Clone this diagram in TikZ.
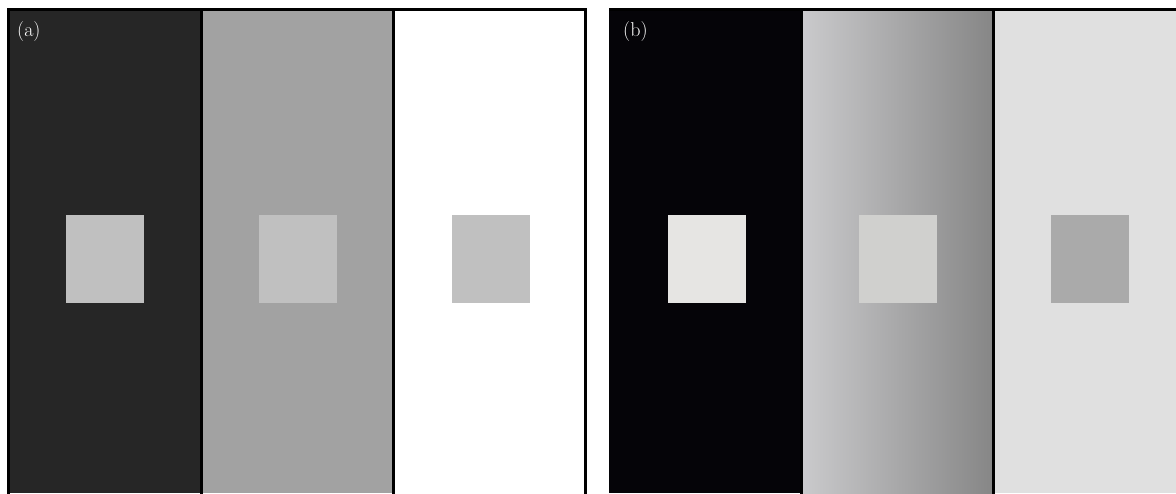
\documentclass[tikz,border=0pt]{standalone}
\usepackage{fontspec}
\begin{document}
\begin{tikzpicture}[x=1pt,y=-1pt,
  frame/.style={line width=3pt,line cap=rect},
  lbl/.style={anchor=base west,inner sep=0pt,text=white,font=\fontsize{20}{20}\selectfont}]
\definecolor{adark}{RGB}{38,38,38}
\definecolor{amid}{RGB}{162,162,162}
\definecolor{asq}{RGB}{192,192,192}
\definecolor{bdark}{RGB}{5,4,8}
\definecolor{bsqa}{RGB}{230,229,227}
\definecolor{bsqb}{RGB}{208,208,206}
\definecolor{bsqc}{RGB}{170,170,170}
\definecolor{blight}{RGB}{224,224,224}
\definecolor{gradl}{RGB}{202,202,204}
\definecolor{gradr}{RGB}{134,134,134}
\useasboundingbox (0,0) rectangle (1176,493);
\fill[white] (0,0) rectangle (1176,493);
% panel (a)
\fill[adark] (8.5,9.5) rectangle (201.5,493);
\fill[amid] (201.5,9.5) rectangle (393.5,493);
\fill[white] (393.5,9.5) rectangle (585.5,493);
\fill[asq] (66,215) rectangle (144,303);
\fill[asq] (259,215) rectangle (337,303);
\fill[asq] (452,215) rectangle (530,303);
\draw[frame] (8.5,493) -- (8.5,9.5) -- (585.5,9.5) -- (585.5,493);
\draw[frame] (201.5,9.5) -- (201.5,493);
\draw[frame] (393.5,9.5) -- (393.5,493);
\node[lbl] (la) at (17,36) {(a)};
% panel (b)
\fill[bdark] (609,8) rectangle (801.5,493);
\shade[left color=gradl,right color=gradr] (801.5,9.5) rectangle (993.5,493);
\fill[blight] (993.5,9.5) rectangle (1176,493);
\fill[bsqa] (668,215) rectangle (746,303);
\fill[bsqb] (859,215) rectangle (937,303);
\fill[bsqc] (1051,215) rectangle (1129,303);
\draw[frame,line cap=butt] (609,9.5) -- (1176,9.5);
\draw[frame] (801.5,9.5) -- (801.5,493);
\draw[frame] (993.5,9.5) -- (993.5,493);
\node[lbl] (lb) at (623,36) {(b)};
\end{tikzpicture}
\end{document}
